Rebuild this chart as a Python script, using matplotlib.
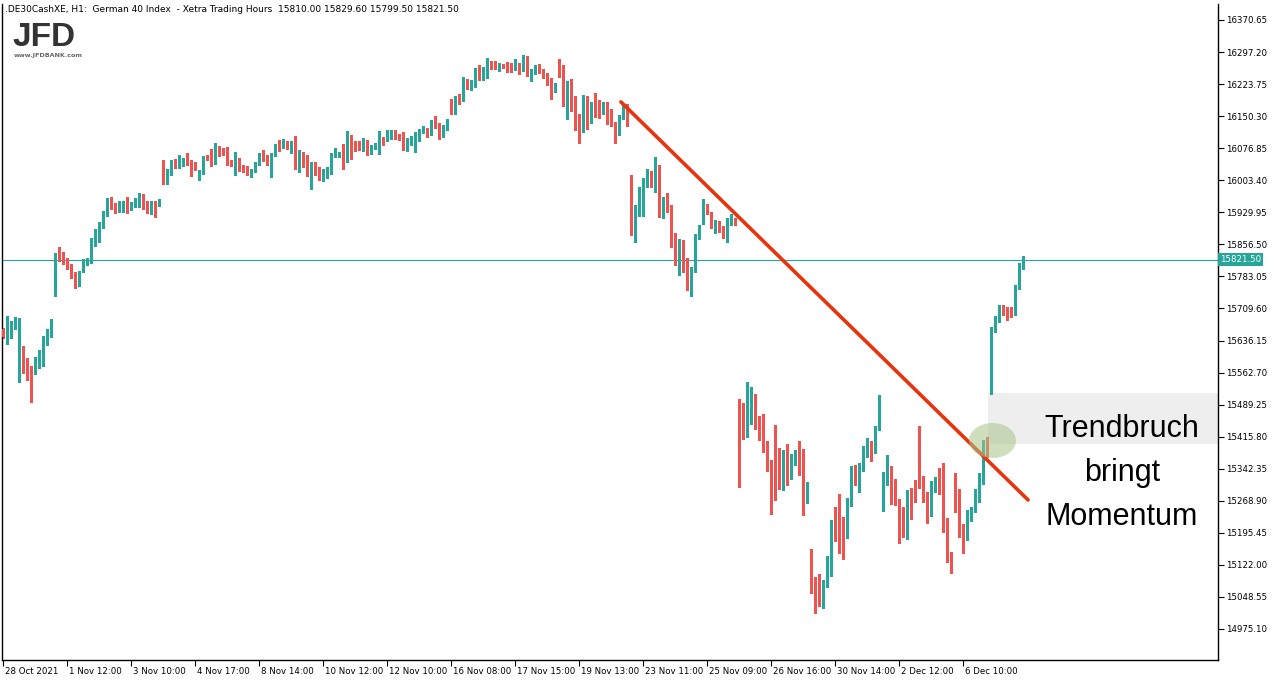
#%%
# Candlestick chart DE30 H1 with broken trend line
import numpy as np
import matplotlib.pyplot as plt
from matplotlib.patches import Ellipse, Rectangle
from matplotlib.transforms import blended_transform_factory, ScaledTranslation

title = ".DE30CashXE, H1:  German 40 Index  - Xetra Trading Hours  15810.00 15829.60 15799.50 15821.50"

open_ = [
    15662.6, 15644.2, 15657.9, 15667.1, 15564.0, 15609.8, 15568.6, 15566.3, 15561.7, 15584.6,
    15602.9, 15630.4, 15648.8, 15740.5, 15832.1, 15829.8, 15818.4, 15806.9, 15790.9, 15777.1,
    15793.2, 15811.5, 15823.0, 15864.2, 15882.6, 15898.6, 15926.1, 15955.9, 15944.4, 15935.2,
    15949.0, 15951.3, 15942.1, 15946.7, 15946.7, 15965.1, 15942.1, 15939.8, 15953.6, 15946.7,
    16031.5, 15997.1, 16020.0, 16049.8, 16031.5, 16036.1, 16049.8, 16047.5, 16040.7, 16010.9,
    16020.0, 16056.7, 16054.4, 16045.2, 16077.3, 16075.0, 16077.3, 16043.0, 16029.2, 16052.1,
    16033.8, 16033.8, 16017.7, 16022.3, 16040.7, 16061.3, 16056.7, 16015.5, 16061.3, 16086.5,
    16079.6, 16091.1, 16077.3, 16081.9, 16033.8, 16054.4, 16047.5, 16015.5, 16043.0, 16020.0,
    16006.3, 16022.3, 16026.9, 16061.3, 16061.3, 16052.1, 16047.5, 16091.1, 16084.2, 16081.9,
    16077.3, 16095.7, 16075.0, 16075.0, 16081.9, 16100.3, 16093.4, 16107.1, 16114.0, 16104.8,
    16102.6, 16084.2, 16088.8, 16088.8, 16100.3, 16120.9, 16123.2, 16109.4, 16132.3, 16127.7,
    16118.6, 16120.9, 16169.0, 16155.2, 16194.2, 16189.6, 16230.9, 16219.4, 16228.6, 16256.1,
    16233.2, 16246.9, 16276.7, 16267.5, 16263.0, 16269.8, 16265.2, 16263.0, 16258.4, 16267.5,
    16272.1, 16281.3, 16242.3, 16253.8, 16263.0, 16253.8, 16244.6, 16233.2, 16214.8, 16267.5,
    16263.0, 16203.4, 16226.3, 16169.0, 16139.2, 16134.6, 16196.5, 16141.5, 16180.4, 16173.6,
    16159.8, 16178.2, 16150.7, 16134.6, 16111.7, 16146.1, 16171.3, 15994.8, 15914.6, 15942.1,
    15965.1, 15999.4, 16017.7, 15999.4, 16033.8, 15921.5, 15967.4, 15946.7, 15875.7, 15813.8,
    15845.9, 15818.4, 15763.4, 15802.3, 15871.1, 15926.1, 15942.1, 15930.7, 15905.4, 15907.7,
    15894.0, 15873.4, 15914.6, 15917.5, 15499.8, 15481.5, 15454.0, 15454.0, 15463.2, 15442.5,
    15428.8, 15392.2, 15360.0, 15403.6, 15307.3, 15300.5, 15366.9, 15350.9, 15364.6, 15380.7,
    15376.1, 15270.7, 15121.7, 15089.6, 15085.0, 15066.7, 15073.6, 15117.1, 15220.2, 15217.9,
    15151.5, 15231.7, 15268.4, 15339.4, 15321.1, 15355.5, 15387.5, 15403.6, 15383.0, 15435.6,
    15311.9, 15321.1, 15346.3, 15311.9, 15268.4, 15231.7, 15197.3, 15293.6, 15286.7, 15424.2,
    15321.1, 15286.7, 15240.9, 15309.6, 15311.9, 15307.3, 15195.0, 15142.4, 15300.5, 15293.6,
    15195.0, 15183.6, 15243.1, 15245.4, 15289.0, 15321.1, 15401.3, 15529.6, 15657.9, 15683.2,
    15710.4, 15706.1, 15703.8, 15696.9, 15761.1, 15810.0,
]
high = [
    15664.9, 15692.3, 15680.9, 15690.0, 15687.7, 15623.6, 15596.1, 15577.8, 15598.4, 15614.4,
    15646.5, 15662.6, 15685.4, 15836.7, 15850.5, 15839.0, 15825.3, 15811.5, 15793.2, 15795.4,
    15823.0, 15825.3, 15871.1, 15891.7, 15907.7, 15932.9, 15962.8, 15965.1, 15951.3, 15955.9,
    15955.9, 15965.1, 15953.6, 15962.8, 15974.2, 15971.9, 15955.9, 15955.9, 15955.9, 15960.5,
    16049.8, 16029.2, 16049.8, 16052.1, 16061.3, 16054.4, 16065.9, 16049.8, 16045.2, 16026.9,
    16059.0, 16061.3, 16075.0, 16088.8, 16081.9, 16077.3, 16079.6, 16049.8, 16068.2, 16054.4,
    16038.4, 16036.1, 16029.2, 16045.2, 16065.9, 16072.7, 16061.3, 16065.9, 16086.5, 16095.7,
    16098.0, 16093.4, 16093.4, 16104.8, 16072.7, 16068.2, 16061.3, 16045.2, 16045.2, 16033.8,
    16029.2, 16033.8, 16065.9, 16077.3, 16068.2, 16086.5, 16116.3, 16107.1, 16093.4, 16093.4,
    16100.3, 16095.7, 16084.2, 16088.8, 16116.3, 16102.6, 16118.6, 16118.6, 16118.6, 16109.4,
    16114.0, 16100.3, 16104.8, 16114.0, 16120.9, 16127.7, 16123.2, 16141.5, 16150.7, 16134.6,
    16130.0, 16143.8, 16189.6, 16196.5, 16201.1, 16240.1, 16235.5, 16233.2, 16260.7, 16267.5,
    16263.0, 16283.6, 16276.7, 16276.7, 16272.1, 16269.8, 16274.4, 16272.1, 16281.3, 16272.1,
    16290.5, 16288.2, 16258.4, 16267.5, 16269.8, 16258.4, 16249.2, 16237.8, 16226.3, 16281.3,
    16267.5, 16230.9, 16235.5, 16196.5, 16155.2, 16198.8, 16196.5, 16182.7, 16203.4, 16187.3,
    16182.7, 16182.7, 16166.7, 16136.9, 16153.0, 16178.2, 16178.2, 16015.5, 15946.7, 15988.0,
    16008.6, 16029.2, 16024.6, 16056.7, 16038.4, 15965.1, 15974.2, 15946.7, 15882.6, 15868.8,
    15866.5, 15825.3, 15804.6, 15880.3, 15900.8, 15960.5, 15949.0, 15930.7, 15912.3, 15910.0,
    15898.6, 15916.9, 15926.1, 15918.0, 15502.1, 15492.9, 15541.1, 15529.6, 15513.6, 15463.2,
    15467.7, 15405.9, 15362.3, 15442.5, 15389.8, 15385.2, 15399.0, 15376.1, 15385.2, 15405.9,
    15387.5, 15311.9, 15158.4, 15094.2, 15101.1, 15087.3, 15142.4, 15224.8, 15254.6, 15284.4,
    15231.7, 15275.2, 15348.6, 15350.9, 15355.5, 15394.4, 15412.7, 15405.9, 15440.2, 15511.3,
    15334.8, 15373.8, 15348.6, 15318.8, 15273.0, 15254.6, 15293.6, 15298.1, 15316.5, 15440.2,
    15325.7, 15289.0, 15314.2, 15323.4, 15344.0, 15355.5, 15229.4, 15151.5, 15332.5, 15295.9,
    15215.6, 15247.7, 15254.6, 15295.9, 15332.5, 15408.2, 15415.0, 15667.1, 15692.3, 15717.5,
    15717.5, 15713.0, 15713.0, 15763.4, 15813.8, 15829.6,
]
low = [
    15641.9, 15628.1, 15641.9, 15662.6, 15541.1, 15561.7, 15545.7, 15495.2, 15559.4, 15573.2,
    15577.8, 15625.9, 15644.2, 15738.2, 15818.4, 15811.5, 15800.0, 15779.4, 15756.5, 15761.1,
    15793.2, 15809.2, 15813.8, 15852.8, 15861.9, 15894.0, 15921.5, 15937.5, 15928.4, 15930.7,
    15930.7, 15928.4, 15935.2, 15942.1, 15942.1, 15937.5, 15928.4, 15926.1, 15919.2, 15944.4,
    15994.8, 15994.8, 16015.5, 16031.5, 16031.5, 16036.1, 16038.4, 16013.2, 16026.9, 16004.0,
    16017.7, 16049.8, 16036.1, 16040.7, 16059.0, 16061.3, 16038.4, 16036.1, 16015.5, 16024.6,
    16022.3, 16015.5, 16010.9, 16022.3, 16038.4, 16047.5, 16038.4, 16010.9, 16059.0, 16070.5,
    16077.3, 16075.0, 16065.9, 16029.2, 16022.3, 16033.8, 16013.2, 15983.4, 16015.5, 16004.0,
    16001.7, 16008.6, 16017.7, 16056.7, 16056.7, 16029.2, 16045.2, 16052.1, 16070.5, 16072.7,
    16070.5, 16061.3, 16063.6, 16075.0, 16063.6, 16084.2, 16093.4, 16097.8, 16097.8, 16095.7,
    16072.7, 16070.5, 16084.2, 16068.2, 16093.4, 16111.7, 16102.6, 16107.1, 16123.2, 16097.8,
    16102.6, 16118.6, 16155.2, 16155.2, 16178.2, 16185.0, 16212.5, 16210.2, 16217.1, 16233.2,
    16233.2, 16237.8, 16258.4, 16258.4, 16253.8, 16260.7, 16251.5, 16251.5, 16256.1, 16246.9,
    16253.8, 16242.3, 16230.9, 16246.9, 16249.2, 16237.8, 16221.7, 16189.6, 16205.7, 16240.1,
    16173.6, 16143.8, 16162.1, 16118.6, 16088.8, 16114.0, 16120.9, 16134.6, 16148.4, 16146.1,
    16155.2, 16132.3, 16127.7, 16088.8, 16107.1, 16143.8, 16127.7, 15877.9, 15861.9, 15921.5,
    15921.5, 15988.0, 15988.0, 15976.5, 15919.2, 15916.9, 15930.7, 15850.5, 15809.2, 15786.3,
    15793.2, 15751.9, 15738.2, 15793.2, 15868.8, 15903.2, 15926.1, 15894.0, 15882.6, 15884.9,
    15871.1, 15861.9, 15900.9, 15900.9, 15300.5, 15410.4, 15415.0, 15444.8, 15433.4, 15408.2,
    15380.7, 15337.1, 15238.6, 15270.7, 15295.9, 15293.6, 15305.0, 15318.8, 15350.9, 15327.9,
    15236.3, 15263.8, 15057.5, 15011.7, 15027.8, 15023.2, 15071.3, 15096.5, 15176.7, 15149.2,
    15135.5, 15183.6, 15256.9, 15305.0, 15289.0, 15337.1, 15369.2, 15360.0, 15378.4, 15431.1,
    15245.4, 15305.0, 15261.5, 15259.2, 15172.1, 15185.9, 15181.3, 15227.1, 15266.1, 15298.1,
    15266.1, 15217.9, 15234.0, 15289.0, 15284.4, 15197.3, 15128.6, 15103.4, 15243.1, 15185.9,
    15149.2, 15179.0, 15222.5, 15243.1, 15266.1, 15307.3, 15369.2, 15513.6, 15655.6, 15678.6,
    15694.6, 15683.2, 15690.0, 15694.6, 15754.2, 15799.5,
]
close = [
    15644.2, 15660.2, 15669.4, 15683.2, 15609.8, 15573.2, 15564.0, 15561.7, 15586.9, 15602.9,
    15632.7, 15648.8, 15683.2, 15832.1, 15827.5, 15816.1, 15806.9, 15788.6, 15777.1, 15795.4,
    15813.8, 15823.0, 15866.5, 15882.6, 15898.6, 15926.1, 15955.9, 15942.1, 15935.2, 15949.0,
    15953.6, 15942.1, 15949.0, 15951.3, 15965.1, 15939.8, 15937.5, 15953.6, 15949.0, 15958.2,
    15997.1, 16024.6, 16049.8, 16033.8, 16038.4, 16052.1, 16045.2, 16036.1, 16031.5, 16020.0,
    16056.7, 16052.1, 16045.2, 16077.3, 16072.7, 16073.9, 16038.4, 16038.4, 16052.1, 16031.5,
    16029.2, 16017.7, 16024.6, 16045.2, 16063.6, 16054.4, 16047.5, 16063.6, 16084.2, 16079.6,
    16091.1, 16079.6, 16084.2, 16031.5, 16054.4, 16033.8, 16015.5, 16038.4, 16020.0, 16006.3,
    16026.9, 16029.2, 16063.6, 16063.6, 16063.6, 16047.5, 16093.4, 16081.9, 16079.6, 16077.3,
    16095.7, 16075.0, 16077.3, 16081.9, 16100.3, 16093.4, 16111.7, 16114.0, 16100.3, 16100.3,
    16084.2, 16091.1, 16102.6, 16102.6, 16118.6, 16123.2, 16111.7, 16132.3, 16125.5, 16118.6,
    16120.9, 16141.5, 16155.2, 16194.2, 16191.9, 16230.9, 16219.4, 16228.6, 16253.8, 16235.5,
    16251.5, 16276.7, 16265.2, 16263.0, 16269.8, 16263.0, 16263.0, 16261.8, 16267.5, 16249.2,
    16281.3, 16242.3, 16256.1, 16260.7, 16253.8, 16242.3, 16230.9, 16217.1, 16217.1, 16263.0,
    16198.8, 16226.3, 16164.4, 16134.6, 16134.6, 16196.5, 16139.2, 16175.9, 16171.3, 16159.8,
    16178.2, 16148.4, 16132.3, 16109.4, 16146.1, 16166.7, 16132.3, 15914.6, 15942.1, 15965.1,
    15999.4, 16020.0, 15997.1, 16033.8, 15919.2, 15965.1, 15949.0, 15871.1, 15809.2, 15845.9,
    15816.1, 15763.4, 15804.6, 15873.4, 15898.6, 15942.1, 15928.4, 15903.2, 15907.7, 15889.4,
    15875.7, 15914.6, 15916.9, 15914.0, 15481.5, 15454.0, 15458.6, 15460.9, 15437.9, 15424.2,
    15392.2, 15360.0, 15245.4, 15305.0, 15300.5, 15364.6, 15348.6, 15369.2, 15380.7, 15373.8,
    15270.7, 15279.8, 15089.6, 15085.0, 15066.7, 15080.4, 15119.4, 15220.2, 15215.6, 15149.2,
    15142.4, 15272.9, 15341.7, 15323.4, 15353.2, 15389.8, 15405.9, 15383.0, 15435.6, 15470.0,
    15323.4, 15346.3, 15311.9, 15266.1, 15231.7, 15199.6, 15291.3, 15289.0, 15268.4, 15321.1,
    15286.7, 15240.9, 15309.6, 15311.9, 15307.3, 15197.3, 15140.1, 15126.3, 15291.3, 15190.5,
    15185.9, 15245.4, 15247.7, 15293.6, 15321.1, 15403.6, 15394.4, 15660.2, 15685.4, 15710.4,
    15703.5, 15701.5, 15696.9, 15761.1, 15811.5, 15821.5,
]

date_labels = ['28 Oct 2021', '1 Nov 12:00', '3 Nov 10:00', '4 Nov 17:00', '8 Nov 14:00',
               '10 Nov 12:00', '12 Nov 10:00', '16 Nov 08:00', '17 Nov 15:00', '19 Nov 13:00',
               '23 Nov 11:00', '25 Nov 09:00', '26 Nov 16:00', '30 Nov 14:00', '2 Dec 12:00',
               '6 Dec 10:00']
price_ticks = [16370.65, 16297.20, 16223.75, 16150.30, 16076.85, 16003.40, 15929.95,
               15856.50, 15783.05, 15709.60, 15636.15, 15562.70, 15489.25, 15415.80,
               15342.35, 15268.90, 15195.45, 15122.00, 15048.55, 14975.10]
note_lines = ['Trendbruch', 'bringt', 'Momentum']

#%%
teal = '#26a69a'
red = '#ef5350'
W, H = 1276, 681

o = np.array(open_)
hi = np.array(high)
lo = np.array(low)
c = np.array(close)
x = np.arange(len(c))
cols = np.where(c >= o, teal, red)

fig = plt.figure(figsize=(W / 100, H / 100), dpi=100)
ax = fig.add_axes([2 / W, 21 / H, 1216 / W, 656 / H])
ax.set_xlim(-0.325, 303.675)
ax.set_ylim(14904.0, 16407.3)

# grey note box and last price line
ax.add_patch(Rectangle((246.1, 15399.0), 60, 116.9, facecolor='#eeeeee',
                       edgecolor='none', zorder=0))
ax.axhline(c[-1], color=teal, lw=0.8, zorder=1)

# candles
ax.vlines(x, lo, hi, colors=cols, lw=1, zorder=2, antialiased=False)
ax.bar(x, np.maximum(np.abs(c - o), 1.5), bottom=np.minimum(o, c), width=0.75,
       color=cols, lw=0, zorder=3, antialiased=False)

# trend line + highlight
ax.plot([154.4, 256.2], [16183.0, 15270.7], color='#e8340c', lw=2.6,
        solid_capstyle='round', zorder=4)
ax.add_patch(Ellipse((247.3, 15407.0), 11.75, 80.2, facecolor='#a8c488',
                     alpha=0.55, edgecolor='none', zorder=5))

# axes styling
for s in ['left', 'bottom', 'right']:
    ax.spines[s].set_linewidth(1)
    ax.spines[s].set_color('black')
ax.spines['top'].set_visible(False)

ax.set_xticks(np.arange(0, 16 * len(date_labels), 16))
ax.set_xticklabels(date_labels, fontsize=6.2, ha='left')
ax.tick_params(axis='x', length=4, width=0.8, pad=1)
shift = ScaledTranslation(2 / 100, 0, fig.dpi_scale_trans)
for lab in ax.get_xticklabels():
    lab.set_transform(lab.get_transform() + shift)

ax.yaxis.tick_right()
ax.set_yticks(price_ticks)
ax.set_yticklabels(['%.2f' % p for p in price_ticks], fontsize=6.2)
ax.tick_params(axis='y', length=4, width=0.8, pad=2)

# last price tag
ax.text(1.0015, c[-1], '%.2f' % c[-1], color='white', fontsize=6.2,
        transform=blended_transform_factory(ax.transAxes, ax.transData),
        va='center', ha='left', clip_on=False, zorder=10,
        bbox=dict(boxstyle='square,pad=0.25', facecolor=teal, edgecolor='none'))

# header + logo
fig.text(5 / W, 1 - 10 / H, title, fontsize=6.5, va='center', ha='left')
fig.text(12 / W, 1 - 37 / H, 'JFD', fontsize=24, fontweight='bold', color='#333333',
         family='Liberation Sans', va='center', ha='left')
fig.text(14 / W, 1 - 56 / H, 'www.JFDBANK.com', fontsize=4.6, fontweight='bold',
         color='#666666', va='center', ha='left')

# note text
for line, yb in zip(note_lines, [437, 481, 525]):
    fig.text(1122 / W, 1 - yb / H, line, fontsize=22, family='Liberation Sans',
             ha='center', va='baseline')

fig.savefig('out.png', dpi=100)
